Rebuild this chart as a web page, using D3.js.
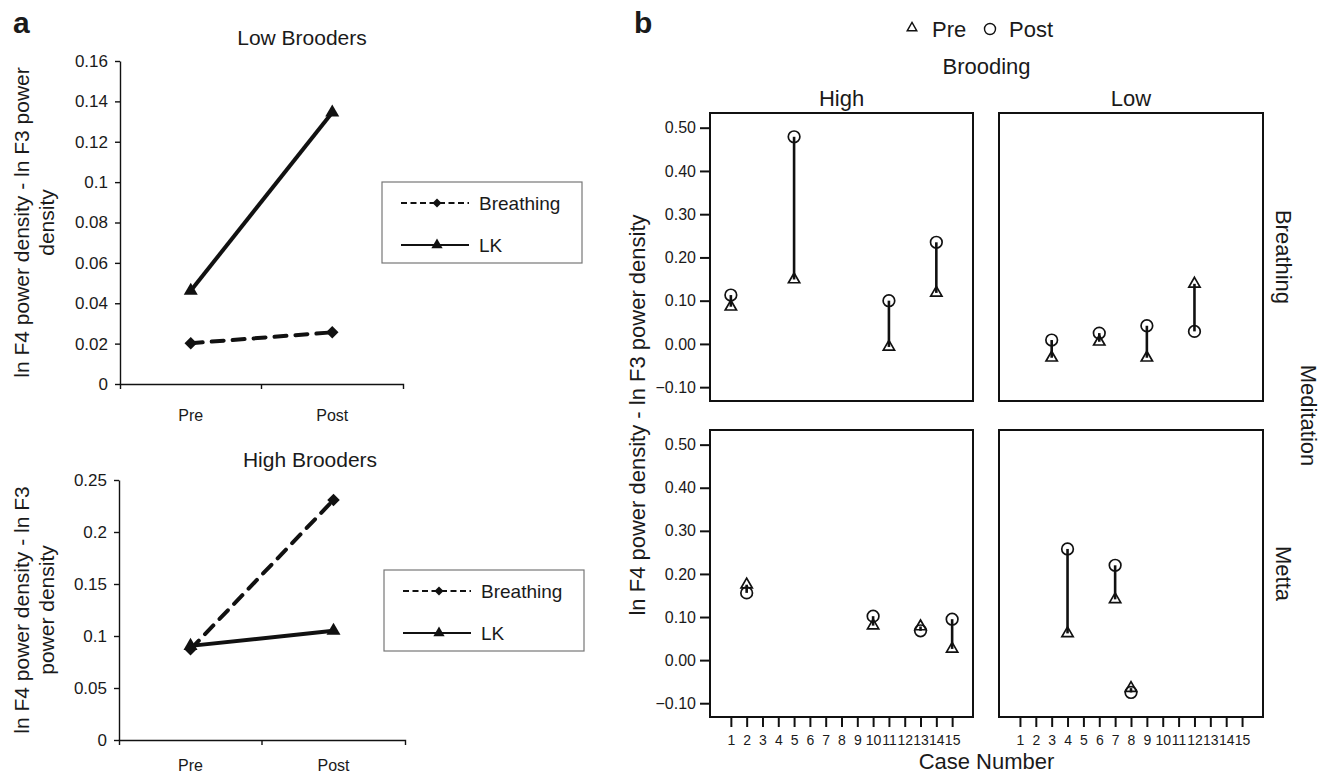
<!DOCTYPE html>
<html>
<head>
<meta charset="utf-8">
<script src="https://cdn.jsdelivr.net/npm/d3@7"></script>
<style>
body { margin: 0; background: #fff; }
text { font-family: "Liberation Sans", Arial, Helvetica, sans-serif; fill: #1a1a1a; }
</style>
</head>
<body>
<svg id="chart" width="1331" height="775"></svg>
<script>
// ---- panel a data ----
var stages = ["Pre", "Post"];
var lowBreathing = [0.0202, 0.0256];
var lowLK = [0.0462, 0.1345];
var highBreathing = [0.0872, 0.2308];
var highLK = [0.0905, 0.105];
var lowTicks = [0, 0.02, 0.04, 0.06, 0.08, 0.1, 0.12, 0.14, 0.16];
var highTicks = [0, 0.05, 0.1, 0.15, 0.2, 0.25];
var seriesNames = ["Breathing", "LK"];

// ---- panel b data ----
var caseNumbers = [1, 2, 3, 4, 5, 6, 7, 8, 9, 10, 11, 12, 13, 14, 15];
var bTicks = [-0.10, 0.00, 0.10, 0.20, 0.30, 0.40, 0.50];
var breathingHigh = [
    {c: 1, pre: 0.086, post: 0.113},
    {c: 5, pre: 0.149, post: 0.479},
    {c: 11, pre: -0.007, post: 0.100},
    {c: 14, pre: 0.118, post: 0.235}
];
var breathingLow = [
    {c: 3, pre: -0.032, post: 0.009},
    {c: 6, pre: 0.005, post: 0.025},
    {c: 9, pre: -0.032, post: 0.042},
    {c: 12, pre: 0.139, post: 0.029}
];
var mettaHigh = [
    {c: 2, pre: 0.175, post: 0.156},
    {c: 10, pre: 0.080, post: 0.102},
    {c: 13, pre: 0.078, post: 0.068},
    {c: 15, pre: 0.026, post: 0.095}
];
var mettaLow = [
    {c: 4, pre: 0.062, post: 0.258},
    {c: 7, pre: 0.141, post: 0.220},
    {c: 8, pre: -0.065, post: -0.075}
];

var svg = d3.select("#chart");
var ink = "#111";
var fmtA = function(d) { return String(+d.toFixed(2)); };

// panel letters
svg.append("text").attr("x", 13).attr("y", 33).style("font-size", "30px").style("font-weight", "bold").text("a");
svg.append("text").attr("x", 634).attr("y", 33).style("font-size", "30px").style("font-weight", "bold").text("b");

var diamond = d3.symbol().type(d3.symbolSquare);
var triangle = d3.symbol().type(d3.symbolTriangle);

function drawLinePanel(p) {
    var x = d3.scalePoint().domain(stages).range([p.left, p.right]).padding(0.5);
    var xb = d3.scaleBand().domain(stages).range([p.left, p.right]);
    var y = d3.scaleLinear().domain([0, p.max]).range([p.bottom, p.top]);
    var g = svg.append("g");

    var ya = g.append("g").attr("transform", "translate(" + p.left + ",0)")
        .call(d3.axisLeft(y).tickValues(p.ticks).tickSize(5).tickSizeOuter(0).tickPadding(7).tickFormat(fmtA));
    ya.selectAll("text").style("font-size", "17px");

    var xa = g.append("g").attr("transform", "translate(0," + p.bottom + ")")
        .call(d3.axisBottom(xb).tickSize(0).tickSizeOuter(5).tickPadding(p.xpad));
    xa.selectAll("text").style("font-size", "16px");
    xa.append("line").attr("x1", xb("Post")).attr("x2", xb("Post")).attr("y1", 0).attr("y2", 5);
    g.selectAll(".domain, .tick line, line").attr("stroke", ink).attr("stroke-width", 1.4);
    g.selectAll(".tick text").attr("fill", "#1a1a1a");

    var line = d3.line().x(function(d, i) { return x(stages[i]); }).y(function(d) { return y(d); });
    g.append("path").datum(p.breathing).attr("d", line).attr("fill", "none")
        .attr("stroke", ink).attr("stroke-width", 4).attr("stroke-dasharray", "12,9").attr("stroke-linecap", "round");
    g.append("path").datum(p.lk).attr("d", line).attr("fill", "none")
        .attr("stroke", ink).attr("stroke-width", 4);

    g.selectAll(".dia").data(p.breathing).enter().append("path")
        .attr("d", diamond.size(78)())
        .attr("transform", function(d, i) { return "translate(" + x(stages[i]) + "," + y(d) + ") rotate(45)"; })
        .attr("fill", ink);
    g.selectAll(".tri").data(p.lk).enter().append("path")
        .attr("d", triangle.size(85)())
        .attr("transform", function(d, i) { return "translate(" + x(stages[i]) + "," + y(d) + ")"; })
        .attr("fill", ink);

    // title
    g.append("text").attr("x", p.titleX).attr("y", p.titleY).attr("text-anchor", "middle")
        .style("font-size", "21px").text(p.title);

    // y label (two lines)
    var cy = (p.top + p.bottom) / 2;
    p.ylabel.forEach(function(s, i) {
        g.append("text").attr("transform", "translate(" + (29 + i * 25) + "," + cy + ") rotate(-90)")
            .attr("text-anchor", "middle").style("font-size", "21px").text(s);
    });

    // legend
    var lg = g.append("g").attr("transform", "translate(" + p.legX + "," + p.legY + ")");
    lg.append("rect").attr("width", 200).attr("height", 81).attr("fill", "#fff")
        .attr("stroke", "#777").attr("stroke-width", 1.2);
    seriesNames.forEach(function(name, i) {
        var ry = 21 + i * 42;
        lg.append("line").attr("x1", 19).attr("x2", 87).attr("y1", ry).attr("y2", ry)
            .attr("stroke", ink).attr("stroke-width", 2.2)
            .attr("stroke-dasharray", i === 0 ? "6,3.5" : null);
        lg.append("path")
            .attr("d", i === 0 ? diamond.size(40)() : triangle.size(55)())
            .attr("transform", "translate(55," + ry + ")" + (i === 0 ? " rotate(45)" : ""))
            .attr("fill", ink);
        lg.append("text").attr("x", 97).attr("y", ry + 7).style("font-size", "19px").text(name);
    });
}

drawLinePanel({
    left: 120, right: 403, top: 61, bottom: 384, max: 0.16, ticks: lowTicks, xpad: 26,
    breathing: lowBreathing, lk: lowLK, title: "Low Brooders", titleX: 302, titleY: 45,
    ylabel: ["ln F4 power density - ln F3 power", "density"], legX: 382, legY: 182
});
drawLinePanel({
    left: 119, right: 405, top: 480, bottom: 740, max: 0.25, ticks: highTicks, xpad: 20,
    breathing: highBreathing, lk: highLK, title: "High Brooders", titleX: 310, titleY: 467,
    ylabel: ["ln F4 power density - ln F3", "power density"], legX: 384, legY: 570
});

// ---- panel b ----
var cols = [[710, 973], [999, 1263]];
var rows = [[113, 401], [430, 717]];
var colNames = ["High", "Low"];
var rowNames = ["Breathing", "Metta"];
var facets = [
    {data: breathingHigh, col: 0, row: 0},
    {data: breathingLow, col: 1, row: 0},
    {data: mettaHigh, col: 0, row: 1},
    {data: mettaLow, col: 1, row: 1}
];
var fmtB = d3.format(".2f");

facets.forEach(function(f) {
    var cx = cols[f.col], ry = rows[f.row];
    var x = d3.scaleLinear().domain([-0.32, 16.32]).range(cx);
    var y = d3.scaleLinear().domain([-0.132, 0.534]).range([ry[1], ry[0]]);
    var g = svg.append("g");

    if (f.col === 0) {
        var ya = g.append("g").attr("transform", "translate(" + cx[0] + ",0)")
            .call(d3.axisLeft(y).tickValues(bTicks).tickSize(10).tickSizeOuter(0).tickPadding(4).tickFormat(fmtB));
        ya.select(".domain").remove();
        ya.selectAll("text").style("font-size", "16px");
        ya.selectAll("line").attr("stroke", ink).attr("stroke-width", 2);
    }
    if (f.row === 1) {
        var xa = g.append("g").attr("transform", "translate(0," + ry[1] + ")")
            .call(d3.axisBottom(x).tickValues(caseNumbers).tickSize(10).tickSizeOuter(0).tickPadding(8).tickFormat(d3.format("d")));
        xa.select(".domain").remove();
        xa.selectAll("text").style("font-size", "14px");
        xa.selectAll("line").attr("stroke", ink).attr("stroke-width", 2);
    }

    g.append("rect").attr("x", cx[0]).attr("y", ry[0]).attr("width", cx[1] - cx[0]).attr("height", ry[1] - ry[0])
        .attr("fill", "none").attr("stroke", ink).attr("stroke-width", 2);

    g.selectAll(".seg").data(f.data).enter().append("line")
        .attr("x1", function(d) { return x(d.c); }).attr("x2", function(d) { return x(d.c); })
        .attr("y1", function(d) { return y(d.pre); }).attr("y2", function(d) { return y(d.post); })
        .attr("stroke", ink).attr("stroke-width", 2.6);
    g.selectAll(".pre").data(f.data).enter().append("path")
        .attr("d", triangle.size(55)())
        .attr("transform", function(d) { return "translate(" + x(d.c) + "," + y(d.pre) + ")"; })
        .attr("fill", "none").attr("stroke", ink).attr("stroke-width", 1.7);
    g.selectAll(".post").data(f.data).enter().append("circle")
        .attr("cx", function(d) { return x(d.c); }).attr("cy", function(d) { return y(d.post); })
        .attr("r", 5.8).attr("fill", "none").attr("stroke", ink).attr("stroke-width", 1.7);
});

colNames.forEach(function(n, i) {
    svg.append("text").attr("x", (cols[i][0] + cols[i][1]) / 2).attr("y", 106)
        .attr("text-anchor", "middle").style("font-size", "22px").text(n);
});
rowNames.forEach(function(n, i) {
    svg.append("text").attr("transform", "translate(1276," + (rows[i][0] + rows[i][1]) / 2 + ") rotate(90)")
        .attr("text-anchor", "middle").style("font-size", "22px").text(n);
});
svg.append("text").attr("transform", "translate(1301," + (rows[0][1] + rows[1][0]) / 2 + ") rotate(90)")
    .attr("text-anchor", "middle").style("font-size", "22px").text("Meditation");
svg.append("text").attr("transform", "translate(645," + (rows[0][0] + rows[1][1]) / 2 + ") rotate(-90)")
    .attr("text-anchor", "middle").style("font-size", "22px").text("ln F4 power density - ln F3 power density");
svg.append("text").attr("x", (cols[0][0] + cols[1][1]) / 2).attr("y", 769)
    .attr("text-anchor", "middle").style("font-size", "22px").text("Case Number");
svg.append("text").attr("x", (cols[0][0] + cols[1][1]) / 2).attr("y", 74)
    .attr("text-anchor", "middle").style("font-size", "22px").text("Brooding");

// Pre / Post legend
var bl = svg.append("g");
bl.append("path").attr("d", triangle.size(40)()).attr("transform", "translate(912,28)")
    .attr("fill", "none").attr("stroke", ink).attr("stroke-width", 1.4);
bl.append("text").attr("x", 932).attr("y", 37).style("font-size", "22px").text("Pre");
bl.append("circle").attr("cx", 990).attr("cy", 29).attr("r", 5.5)
    .attr("fill", "none").attr("stroke", ink).attr("stroke-width", 1.4);
bl.append("text").attr("x", 1009).attr("y", 37).style("font-size", "22px").text("Post");
</script>
</body>
</html>
